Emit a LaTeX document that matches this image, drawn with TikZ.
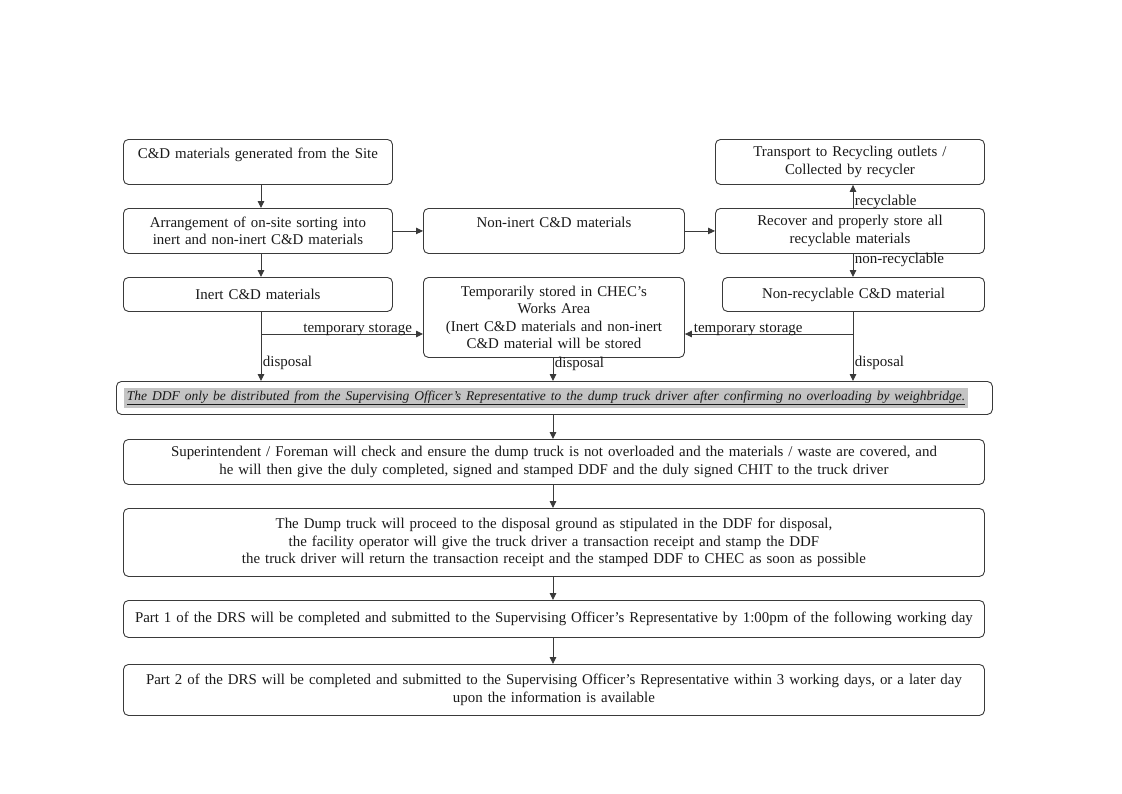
\documentclass[tikz,border=0pt]{standalone}
\usepackage{fontspec}
\setmainfont{Liberation Serif}
\usetikzlibrary{arrows.meta}
\definecolor{lc}{HTML}{3A3A3A}
\definecolor{tc}{HTML}{1A1A1A}
\definecolor{band}{HTML}{C4C4C4}
\begin{document}
\begin{tikzpicture}[x=1pt,y=-1pt,
  box/.style={draw=lc, rounded corners=5pt, align=center, inner xsep=4pt, inner ysep=2pt, anchor=north west,
    font=\fontsize{14.9pt}{17.5pt}\selectfont, text=tc, line width=0.9pt},
  arr/.style={draw=lc, line width=0.9pt, -{Triangle[length=7pt,width=6.5pt]}},
  lab/.style={font=\fontsize{15pt}{17pt}\selectfont, text=tc, inner sep=1.5pt}]
\fill[white] (0,0) rectangle (1122,793);
\useasboundingbox (0,0) rectangle (1122,793);
\coordinate (xl) at (261,0);
\coordinate (xm) at (553,0);
\coordinate (xr) at (853,0);
\node[box, text width=261pt, minimum height=45pt] (b1) at (123,139) {C\&D materials generated from the Site\\\mbox{}};
\node[box, text width=261pt, minimum height=45pt] (b2) at (123,208) {Arrangement of on-site sorting into\\inert and non-inert C\&D materials};
\node[box, text width=253pt, minimum height=45pt] (b3) at (423,208) {Non-inert C\&D materials\\\mbox{}};
\node[box, text width=261pt, minimum height=45pt] (b4) at (715,208) {Recover and properly store all\\recyclable materials};
\node[box, text width=261pt, minimum height=45pt] (b5) at (715,139) {Transport to Recycling outlets /\\Collected by recycler};
\node[box, text width=261pt, minimum height=34pt] (b6) at (123,277) {Inert C\&D materials};
\node[box, text width=253pt, minimum height=80pt] (b7) at (423,277) {Temporarily stored in CHEC's\\Works Area\\(Inert C\&D materials and non-inert\\C\&D material will be stored};
\node[box, text width=254pt, minimum height=34pt] (b8) at (722,277) {Non-recyclable C\&D material};
\node[box, text width=860pt, inner xsep=8pt, minimum height=33pt, align=left] (ddf) at (116,381)
  {\setlength{\fboxsep}{2.5pt}\colorbox{band}{\fontsize{13.5pt}{15pt}\selectfont\itshape\underline{The DDF only be distributed from the Supervising Officer's Representative to the dump truck driver after confirming no overloading by weighbridge.}}};
\node[box, text width=853pt, minimum height=45pt] (b10) at (123,439) {Superintendent / Foreman will check and ensure the dump truck is not overloaded and the materials / waste are covered, and\\he will then give the duly completed, signed and stamped DDF and the duly signed CHIT to the truck driver};
\node[box, text width=853pt, minimum height=68pt] (b11) at (123,508) {The Dump truck will proceed to the disposal ground as stipulated in the DDF for disposal,\\the facility operator will give the truck driver a transaction receipt and stamp the DDF\\the truck driver will return the transaction receipt and the stamped DDF to CHEC as soon as possible};
\node[box, text width=853pt, minimum height=37pt] (b12) at (123,600) {Part 1 of the DRS will be completed and submitted to the Supervising Officer's Representative by 1:00pm of the following working day};
\node[box, text width=853pt, minimum height=51pt] (b13) at (123,664) {Part 2 of the DRS will be completed and submitted to the Supervising Officer's Representative within 3 working days, or a later day\\upon the information is available};
% connectors
\draw[arr] (b1.south -| xl) -- (b2.north -| xl);
\draw[arr] (b2.east) -- (b3.west);
\draw[arr] (b3.east) -- (b4.west);
\draw[arr] (b4.north -| xr) -- node[lab, pos=0.25, anchor=west] {recyclable} (b5.south -| xr);
\draw[arr] (b4.south -| xr) -- node[lab, pos=0.25, anchor=west] {non-recyclable} (b8.north -| xr);
\draw[arr] (b2.south -| xl) -- (b6.north -| xl);
\draw[arr] (b6.south -| xl) -- node[lab, pos=0.74, anchor=west] {disposal} (ddf.north -| xl);
\draw[arr] (b8.south -| xr) -- node[lab, pos=0.74, anchor=west] {disposal} (ddf.north -| xr);
\draw[arr] (b7.south -| xm) -- node[lab, pos=0.25, anchor=west] {disposal} (ddf.north -| xm);
\coordinate (jl) at (261,334);
\coordinate (jr) at (853,334);
\draw[arr] (jl) -- (b7.west |- jl) node[lab, pos=1, anchor=base east, xshift=-9pt, yshift=2pt] {temporary storage};
\draw[arr] (jr) -- (b7.east |- jr) node[lab, pos=1, anchor=base west, xshift=7pt, yshift=2pt] {temporary storage};
\draw[arr] (ddf.south -| xm) -- (b10.north -| xm);
\draw[arr] (b10.south -| xm) -- (b11.north -| xm);
\draw[arr] (b11.south -| xm) -- (b12.north -| xm);
\draw[arr] (b12.south -| xm) -- (b13.north -| xm);
\end{tikzpicture}
\end{document}
